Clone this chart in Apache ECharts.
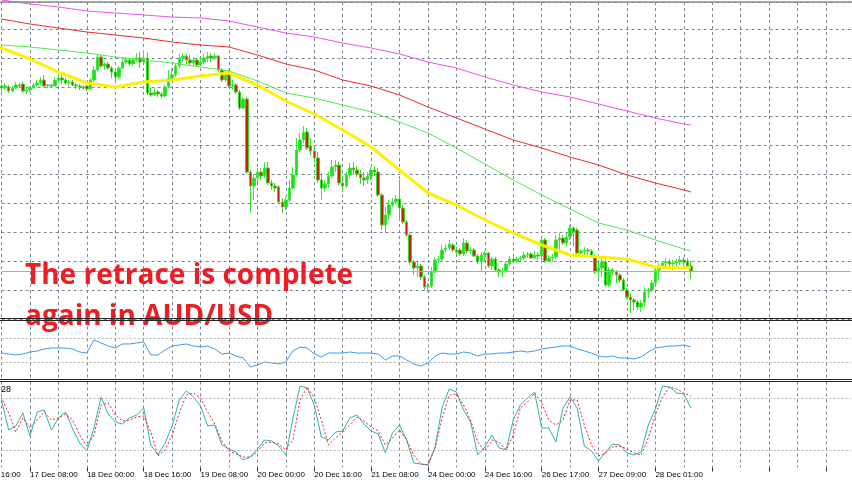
<!DOCTYPE html>
<html><head><meta charset="utf-8">
<script src="https://cdn.jsdelivr.net/npm/echarts@6/dist/echarts.min.js"></script>
<style>html,body{margin:0;padding:0;background:#fff}#c{width:852px;height:485px}</style>
</head><body><div id="c"></div>
<script>
// ---- time axis: hourly bars, numbered from 16 Dec 16:00 (bar 0); label every 16 bars ----
const firstVisibleBar = 8;      // first category on the axis
const lastAxisBar = 247;        // last (empty, future) slot on the axis
const tickLabels = ['16 Dec 16:00','17 Dec 08:00','18 Dec 00:00','18 Dec 16:00','19 Dec 08:00','20 Dec 00:00','20 Dec 16:00','21 Dec 08:00','24 Dec 00:00','24 Dec 16:00','26 Dec 17:00','27 Dec 09:00','28 Dec 01:00'];

// ---- AUD/USD H1 candles, price x10000, first candle = bar 7 ----
const candleStart = 7;
const opens = [7249,7251,7249,7250,7246,7249,7252,7253,7246,7247,
7249,7252,7254,7257,7251,7252,7251,7257,7259,7257,
7254,7255,7252,7251,7250,7251,7248,7257,7267,7280,
7271,7273,7269,7265,7260,7269,7275,7277,7273,7277,
7279,7275,7279,7244,7242,7245,7243,7241,7250,7259,
7262,7271,7279,7281,7277,7274,7277,7272,7275,7279,
7281,7279,7281,7267,7257,7263,7251,7252,7245,7229,
7238,7165,7151,7159,7165,7161,7169,7154,7151,7150,
7135,7130,7137,7149,7162,7187,7197,7205,7191,7186,
7179,7157,7149,7153,7161,7170,7172,7154,7151,7162,
7169,7167,7163,7159,7157,7161,7167,7165,7142,7112,
7122,7132,7135,7138,7129,7115,7102,7075,7069,7071,
7060,7050,7051,7065,7077,7078,7087,7089,7092,7087,
7087,7083,7094,7086,7087,7081,7075,7082,7084,7071,
7078,7067,7065,7066,7073,7078,7076,7078,7079,7082,
7083,7079,7082,7081,7097,7076,7079,7080,7097,7099,
7094,7100,7109,7107,7084,7086,7087,7086,7081,7065,
7069,7075,7052,7067,7065,7062,7057,7047,7040,7037,
7035,7030,7034,7045,7047,7054,7067,7071,7074,7075,
7073,7074,7075,7077,7076,7071];
const closes = [7251,7249,7251,7246,7249,7252,7251,7246,7247,7249,
7252,7254,7257,7251,7252,7251,7257,7259,7257,7254,
7255,7252,7251,7250,7249,7248,7257,7267,7280,7271,
7273,7269,7265,7260,7269,7275,7277,7273,7277,7279,
7275,7279,7244,7242,7245,7243,7241,7250,7259,7262,
7271,7279,7281,7277,7274,7277,7272,7275,7279,7281,
7279,7281,7267,7257,7264,7251,7252,7245,7229,7238,
7165,7151,7159,7165,7161,7169,7154,7151,7149,7135,
7130,7137,7149,7162,7187,7197,7205,7189,7186,7179,
7157,7149,7153,7161,7170,7172,7154,7151,7162,7169,
7167,7163,7159,7157,7161,7167,7165,7142,7112,7122,
7132,7135,7138,7129,7115,7102,7075,7069,7071,7060,
7050,7051,7065,7077,7078,7087,7089,7093,7087,7085,
7083,7094,7086,7087,7081,7075,7082,7084,7071,7078,
7067,7065,7066,7073,7078,7076,7078,7079,7082,7083,
7079,7082,7081,7097,7076,7079,7080,7097,7099,7094,
7100,7109,7105,7084,7086,7087,7086,7081,7065,7069,
7075,7052,7067,7065,7062,7057,7047,7040,7037,7035,
7030,7034,7045,7047,7054,7067,7071,7074,7075,7073,
7074,7075,7077,7075,7071,7066];
const lows = [7247,7246,7247,7244,7245,7248,7249,7244,7243,7245,
7248,7250,7252,7250,7249,7249,7250,7254,7253,7252,
7251,7251,7248,7247,7247,7246,7247,7255,7265,7269,
7267,7267,7259,7257,7258,7268,7273,7271,7271,7275,
7269,7273,7242,7240,7241,7240,7239,7240,7249,7257,
7260,7269,7275,7273,7272,7271,7270,7271,7273,7275,
7275,7277,7265,7255,7255,7249,7247,7243,7227,7228,
7163,7124,7137,7155,7157,7159,7152,7147,7145,7133,
7124,7127,7135,7147,7160,7185,7194,7187,7182,7174,
7154,7137,7145,7149,7159,7165,7152,7145,7149,7159,
7162,7160,7153,7151,7153,7157,7161,7140,7107,7104,
7117,7130,7133,7117,7113,7100,7072,7062,7060,7057,
7047,7045,7049,7063,7074,7075,7085,7087,7085,7082,
7081,7081,7084,7083,7080,7073,7065,7075,7069,7067,
7065,7060,7060,7064,7071,7074,7074,7075,7077,7079,
7078,7078,7077,7075,7074,7075,7075,7078,7084,7092,
7091,7097,7091,7082,7083,7082,7080,7079,7063,7059,
7060,7050,7050,7062,7054,7054,7046,7038,7024,7027,
7027,7025,7030,7039,7045,7052,7057,7069,7069,7068,
7067,7071,7072,7071,7069,7058];
const highs = [7254,7253,7254,7252,7251,7255,7254,7255,7249,7251,
7254,7257,7260,7262,7253,7253,7260,7264,7262,7259,
7257,7257,7254,7253,7252,7252,7259,7271,7283,7282,
7275,7275,7271,7269,7271,7279,7280,7279,7279,7284,
7285,7287,7285,7249,7249,7247,7245,7252,7267,7269,
7274,7283,7284,7283,7282,7280,7279,7279,7283,7285,
7284,7284,7282,7269,7267,7267,7257,7254,7247,7240,
7240,7167,7163,7169,7169,7175,7175,7157,7154,7152,
7139,7140,7157,7170,7199,7204,7211,7209,7199,7192,
7185,7164,7157,7165,7177,7177,7175,7159,7165,7174,
7175,7171,7167,7165,7165,7170,7171,7169,7144,7130,
7137,7139,7142,7157,7132,7117,7104,7077,7075,7073,
7062,7054,7070,7080,7081,7092,7093,7097,7094,7090,
7089,7099,7097,7090,7089,7083,7085,7086,7085,7080,
7080,7069,7069,7076,7081,7081,7080,7081,7085,7085,
7085,7086,7085,7099,7099,7082,7083,7102,7104,7102,
7104,7112,7111,7109,7088,7090,7089,7088,7083,7074,
7079,7077,7070,7069,7067,7064,7059,7049,7044,7039,
7037,7037,7050,7049,7057,7070,7074,7076,7079,7078,
7077,7078,7081,7080,7079,7076];

// ---- moving averages, read every 8 bars (bars 0,8,...,200) + last bar 202 ----
const maBars = [0,8,16,24,32,40,48,56,64,72,80,88,96,104,112,120,128,136,144,152,160,168,176,184,192,200,202];
const maYellow = [7297,7289,7278,7265,7254,7250,7255,7257,7261,7264,7252,7236,7223,7207,7190,7167,7144,7132,7117,7104,7092,7082,7080,7078,7070,7069,7069];
const maGreen = [7295,7292,7290,7287,7284,7280,7277,7274,7270,7266,7256,7244,7239,7232,7225,7215,7204,7189,7173,7157,7142,7128,7114,7107,7097,7088,7086];
const maRed = [7324,7318,7313,7309,7305,7302,7299,7295,7292,7290,7282,7273,7267,7257,7251,7242,7230,7219,7208,7197,7189,7180,7172,7162,7154,7147,7145];
const maMagenta = [7341,7337,7333,7330,7326,7324,7322,7320,7319,7316,7310,7304,7300,7294,7289,7283,7275,7269,7260,7252,7245,7240,7233,7226,7219,7213,7212];

// ---- oscillators, read every 2 bars starting at bar 6 ----
const oscStart = 6, oscStep = 2;
const rsi = [44.9,
44.9,43.2,41.5,43.2,46.6,48.3,51.7,53.4,53.4,53.4,
51.7,46.6,44.9,67.0,61.9,56.8,53.4,60.2,60.2,61.9,
63.6,41.5,41.5,50.0,56.8,58.5,60.2,56.8,55.1,56.8,
51.7,43.2,44.9,39.8,36.4,21.2,24.6,29.7,28.0,26.3,
29.7,48.3,55.1,53.4,43.2,38.1,44.9,44.9,44.9,46.6,
44.9,44.9,44.9,43.2,33.1,39.8,39.8,33.1,26.3,22.9,
28.0,39.8,44.9,43.2,43.2,46.6,44.9,39.8,43.2,43.2,
44.9,44.9,46.6,48.3,46.6,48.3,51.7,53.4,55.1,56.8,
56.8,51.7,48.3,44.9,39.8,38.1,39.8,36.4,36.4,34.7,
38.1,46.6,53.4,55.1,56.8,56.8,58.5,55.1];
const stochMain = [95.9,
77.3,43.6,48.3,63.4,36.6,64.5,66.9,43.6,57.6,64.5,
44.8,28.5,19.2,45.9,82.0,62.2,52.9,50.6,57.6,61.1,
69.2,26.2,14.5,28.5,48.3,78.5,89.0,82.0,71.5,48.3,
49.4,26.2,21.5,18.0,8.7,12.2,21.5,32.0,30.8,25.0,
14.5,57.6,94.8,92.5,72.7,35.5,32.0,41.3,42.4,57.6,
61.1,50.6,42.4,39.0,16.9,40.1,49.4,32.0,5.2,4.1,
2.9,23.8,70.4,91.3,87.8,66.9,52.9,14.5,23.8,37.8,
22.7,20.4,55.2,72.7,80.8,87.8,45.9,45.9,29.7,69.2,
82.0,69.2,25.0,19.2,7.6,18.0,27.3,26.2,16.9,14.5,
18.0,49.4,68.0,94.8,93.6,86.6,85.5,69.2];
const stochSignal = [87.8,
80.8,63.4,41.3,57.6,45.9,55.2,64.5,55.2,57.6,62.2,
55.2,37.8,25.0,37.8,72.7,75.0,61.1,54.1,55.2,58.7,
59.9,41.3,13.4,20.4,37.8,63.4,84.3,86.6,80.8,64.5,
50.6,30.8,19.2,15.7,12.2,12.2,18.0,28.5,29.7,27.3,
20.4,32.0,78.5,93.6,80.8,55.2,26.2,34.3,41.3,49.4,
58.7,54.1,47.1,42.4,26.2,34.3,43.6,32.0,14.5,4.1,
2.9,22.7,57.6,84.3,85.5,72.7,55.2,29.7,19.2,32.0,
29.7,20.4,37.8,69.2,76.2,86.6,75.0,55.2,49.4,55.2,
78.5,78.5,49.4,26.2,13.4,16.9,23.8,25.0,21.5,16.9,
14.5,34.3,61.1,82.0,93.6,91.3,86.6,83.1];
const rsiLevels = [70, 30];
const stochLevels = [80, 20];

// ---- build library structures (category j <-> bar j+firstVisibleBar) ----
const cats = [];
for (let b = firstVisibleBar; b <= lastAxisBar; b++) cats.push('b' + b);
const toCat = bar => bar - firstVisibleBar;
const candleData = opens.map((o, k) => [toCat(candleStart + k), o, closes[k], lows[k], highs[k]]);
const maPairs = arr => arr.map((v, k) => [toCat(maBars[k]), v]);
const oscPairs = arr => arr.map((v, k) => [toCat(oscStart + oscStep * k), v]);
const isLabelCat = j => (j + firstVisibleBar) % 16 === 0;

const GRID_DASH = {color: '#7d8896', type: [3, 3], width: 1};
const LABEL_FONT = {fontSize: 8, fontFamily: 'Liberation Sans', color: '#000'};
const LABEL_MARGIN = 3;
function xAxisFor(g, withLabels) {
  return {
    type: 'category', gridIndex: g, data: cats, boundaryGap: false,
    axisLine: {show: false},
    axisTick: {show: withLabels, interval: (j) => isLabelCat(j), length: 4, lineStyle: {color: '#333'}},
    axisLabel: Object.assign({show: withLabels, interval: (j) => isLabelCat(j), align: 'left', margin: LABEL_MARGIN,
      formatter: (v, j) => tickLabels[(j + firstVisibleBar) / 16] || ''}, LABEL_FONT),
    splitLine: {show: true, interval: 7, lineStyle: GRID_DASH}
  };
}
const levelLine = vals => ({
  symbol: ['none', 'none'], silent: true, label: {show: false},
  lineStyle: {color: '#b4b4b4', type: [2, 2], width: 1},
  data: vals.map(v => ({yAxis: v}))
});
const L = 1.6, R = 1.2;
const lineBase = (xi, arr, style) => ({type: 'line', xAxisIndex: xi, yAxisIndex: xi, data: arr, symbol: 'none',
  clip: false, lineStyle: style});

const chart = echarts.init(document.getElementById('c'), null, {renderer: 'canvas'});
chart.setOption({
  animation: false,
  backgroundColor: '#ffffff',
  grid: [
    {left: L, right: R, top: 2, height: 317},
    {left: L, right: R, top: 320.5, height: 59},
    {left: L, right: R, top: 381.5, height: 86}
  ],
  xAxis: [xAxisFor(0, false), xAxisFor(1, false), xAxisFor(2, true)],
  yAxis: [
    {type: 'value', gridIndex: 0, min: 7018, max: 7335, interval: 29,
      axisLine: {show: false}, axisTick: {show: false}, axisLabel: {show: false},
      splitLine: {show: true, lineStyle: GRID_DASH}},
    {type: 'value', gridIndex: 1, min: 0, max: 100,
      axisLine: {show: false}, axisTick: {show: false}, axisLabel: {show: false}, splitLine: {show: false}},
    {type: 'value', gridIndex: 2, min: 0, max: 100,
      axisLine: {show: false}, axisTick: {show: false}, axisLabel: {show: false}, splitLine: {show: false}}
  ],
  series: [
    {type: 'candlestick', xAxisIndex: 0, yAxisIndex: 0, data: candleData, clip: false,
      encode: {x: 0, y: [1, 2, 3, 4]}, barWidth: 3,
      itemStyle: {color: '#16e016', borderColor: '#3be83b', color0: '#d01e0a', borderColor0: '#3bd82b', borderWidth: 1},
      markLine: {symbol: ['none', 'none'], silent: true, label: {show: false},
        lineStyle: {color: '#a6aeb8', type: 'solid', width: 1},
        data: [{yAxis: closes[closes.length - 1]}]}},
    lineBase(0, maPairs(maMagenta), {color: '#f050f0', width: 1}),
    lineBase(0, maPairs(maRed), {color: '#f02828', width: 1}),
    lineBase(0, maPairs(maGreen), {color: '#50e850', width: 1}),
    lineBase(0, maPairs(maYellow), {color: '#fff000', width: 3}),
    Object.assign(lineBase(1, oscPairs(rsi), {color: '#3b9af2', width: 1}), {markLine: levelLine(rsiLevels)}),
    Object.assign(lineBase(2, oscPairs(stochMain), {color: '#2ab5aa', width: 1}), {markLine: levelLine(stochLevels)}),
    lineBase(2, oscPairs(stochSignal), {color: '#ff1a1a', width: 1, type: [2, 2]})
  ],
  graphic: [
    {type: 'text', x: 25, y: 276, z: 50, style: {text: 'The retrace is complete', font: 'bold 28px "Open Sans"',
      fill: '#ee1c24', align: 'left', verticalAlign: 'middle'}},
    {type: 'text', x: 25, y: 317, z: 50, style: {text: 'again in AUD/USD', font: 'bold 28px "Open Sans"',
      fill: '#ee1c24', align: 'left', verticalAlign: 'middle'}},
    {type: 'text', x: 1, y: 390, z: 50, style: {text: '28', font: '9px "Liberation Sans"', fill: '#000',
      align: 'left', verticalAlign: 'middle'}},
    {type: 'line', z: 60, shape: {x1: 0, y1: 2, x2: 852, y2: 2}, style: {stroke: '#8c8c8c', lineWidth: 1.5}},
    {type: 'line', z: 60, shape: {x1: 0, y1: 318.5, x2: 852, y2: 318.5}, style: {stroke: '#262626', lineWidth: 1}},
    {type: 'line', z: 60, shape: {x1: 0, y1: 320.5, x2: 852, y2: 320.5}, style: {stroke: '#262626', lineWidth: 1}},
    {type: 'line', z: 60, shape: {x1: 0, y1: 379.5, x2: 852, y2: 379.5}, style: {stroke: '#262626', lineWidth: 1}},
    {type: 'line', z: 60, shape: {x1: 0, y1: 381.5, x2: 852, y2: 381.5}, style: {stroke: '#262626', lineWidth: 1}}
  ]
});

// the first time label (bar 0) sits left of the visible axis: place it from the axis scale
const p16 = chart.convertToPixel({xAxisIndex: 2}, 'b16');
const p24 = chart.convertToPixel({xAxisIndex: 2}, 'b24');
const barStep = (p24 - p16) / 8;
const axisY = chart.convertToPixel({yAxisIndex: 2}, 0);
chart.setOption({graphic: [{type: 'text', id: 'firstLabel', x: p16 - 16 * barStep, y: axisY + LABEL_MARGIN, z: 10,
  style: {text: tickLabels[0], font: LABEL_FONT.fontSize + 'px "' + LABEL_FONT.fontFamily + '"', fill: LABEL_FONT.color,
    align: 'left', verticalAlign: 'top'}}]});
</script></body></html>
